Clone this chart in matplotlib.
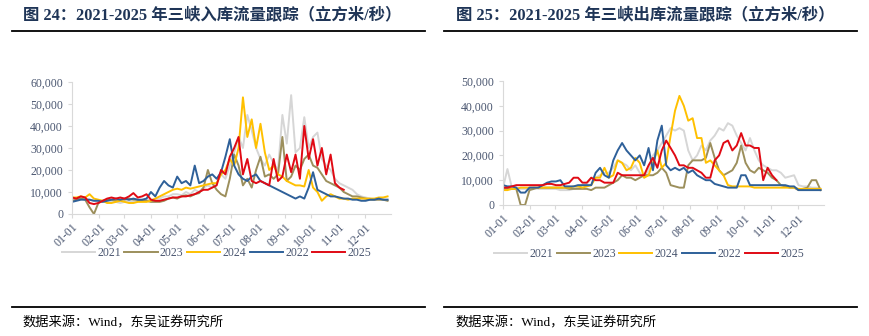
import matplotlib.pyplot as plt
from matplotlib.lines import Line2D
from matplotlib.ticker import FuncFormatter

# ---- data (thousand m3/s, sampled every 5 days from 01-01) ----
days = list(range(0, 365, 5))
days_2025 = list(range(0, 315, 5))

month_ticks = [0, 31, 59, 90, 120, 151, 181, 212, 243, 273, 304, 334]
month_labels = ["01-01", "02-01", "03-01", "04-01", "05-01", "06-01",
                "07-01", "08-01", "09-01", "10-01", "11-01", "12-01"]

years = ["2021", "2023", "2024", "2022", "2025"]
colors = ["#D6D6D6", "#9C8F5C", "#FFC000", "#2E6099", "#E00A14"]

in_2021 = [6.5, 7, 7.5, 7, 6.5, 6, 6, 6, 5.5, 5.5, 5.5, 5, 5.5, 6, 5.5, 6, 6, 6.5, 6.5, 7,
           7, 8, 8, 9, 9, 8.5, 10, 9, 11, 10, 12, 13, 12, 14, 18, 16, 22, 28, 35, 30,
           45, 38, 30, 25, 22, 27, 23, 20, 45, 32, 54, 28, 30, 44, 30, 35, 37, 25, 22, 20,
           16, 14, 13, 12, 11, 9, 8, 7.5, 7, 6.5, 6.5, 6.5, 6.5]
in_2023 = [6, 6.5, 7, 6.5, 3, 0, 5, 6, 6.5, 6.5, 6, 6.5, 6.5, 7, 6.5, 6.5, 6, 6, 5.5, 5.5,
           5.5, 6, 7, 7.5, 7, 8, 8.5, 8, 9, 9.5, 12, 20, 14, 11, 9, 8, 16, 27, 22, 13,
           16, 12, 20, 26, 17, 18, 16, 18, 35, 15, 17, 22, 20, 25, 27, 22, 21, 18, 15, 14,
           13, 12, 10, 9, 8, 8, 7.5, 7, 6.5, 6.5, 6.5, 6.5, 6]
in_2024 = [7.5, 7.5, 8, 7.5, 9, 7, 6.5, 6, 5, 5, 5.5, 6, 5.5, 5, 5, 5.5, 5.5, 5.5, 6, 7,
           8, 9, 10, 11, 11.5, 11, 12, 11.5, 12, 12.5, 13, 13.5, 14, 14, 18, 20, 25, 22, 30, 53,
           35, 43, 30, 41, 28, 20, 22, 18, 17, 15, 14, 13, 13, 12.5, 20, 12, 10, 6, 8, 9,
           8, 7, 7, 6.5, 7, 7, 7, 7, 7, 7, 7.5, 7.5, 8]
in_2022 = [5.5, 6, 6.5, 6.5, 6.5, 6, 6, 5.5, 6, 6.5, 7, 6.5, 7, 6.5, 7, 6.5, 6.5, 7, 10, 8,
           12, 15, 13, 12, 17, 14, 15, 13, 22, 14, 15, 17, 18, 16, 19, 26, 34, 22, 18, 16,
           15, 17, 18, 15, 14, 13, 12, 11, 10, 9, 8, 7, 8, 7, 12, 19, 11, 10, 9, 8,
           8, 7.5, 7, 7, 6.5, 6.5, 6, 6, 6.5, 6.5, 7, 6.5, 6.5]
in_2025 = [7.5, 7, 8, 7.5, 5, 4.5, 5, 6, 7, 7.5, 7, 7.5, 7, 8, 9.5, 7.5, 8, 9, 6.5, 6,
           6, 6.5, 7, 7.5, 7.5, 8, 8, 8.5, 9, 10, 11, 11, 12, 13, 20, 18, 26, 30, 35, 18,
           25, 15, 14, 15, 14, 13, 25, 15, 17, 27, 19, 27, 16, 40, 25, 34, 22, 30, 18, 27,
           14, 12, 11]

out_2021 = [7, 14.5, 7, 7, 6.5, 6.5, 6.5, 7, 6.5, 6.5, 6.5, 6.5, 6.5, 6, 6, 6, 6.5, 7, 8, 8.5,
            11, 11, 12, 13, 13, 15, 18, 17, 16, 14, 16, 13, 11, 14, 20, 22, 25, 28, 31, 30,
            31, 30, 22, 18, 20, 24, 22, 26, 28, 31, 30, 33, 32, 28, 25, 22, 27, 22, 18, 16,
            15, 14, 14, 13, 11, 11.5, 12, 8, 7.5, 7.5, 7, 7, 6.5]
out_2023 = [6.5, 6.5, 6.5, 6.5, 0, 0, 6, 6.5, 7, 7, 7, 7, 7, 7, 7, 6.5, 6.5, 6.5, 6.5, 6.5,
            6, 7, 7, 7, 8, 9, 10, 12, 11, 11, 10, 11, 12, 12, 12, 13, 15, 13, 8, 7.5,
            7, 7, 16, 18, 18, 18, 19, 25, 19, 14, 12, 13, 14, 17, 24, 17, 14, 13, 15, 14,
            13, 11, 10, 8, 7.5, 7, 7, 6, 6.5, 7, 10, 10, 6]
out_2024 = [6, 6, 6.5, 6.5, 7, 7, 7, 7, 7, 7, 7, 7, 7, 7, 7, 7, 7.5, 7.5, 7, 7.5,
            8, 11, 11, 15, 11, 12, 18, 17, 14, 15, 19, 17, 11, 12, 17, 22, 15, 17, 28, 38,
            44, 40, 34, 35, 27, 27, 17, 18, 16, 14, 12, 8, 7.5, 7.5, 7.5, 7.5, 7.5, 7, 7, 7,
            7, 7, 7, 7, 7, 7, 7, 6.5, 6.5, 6.5, 6.5, 6.5, 6.5]
out_2022 = [8, 7.5, 7.5, 7, 5, 5, 7, 7, 7, 8, 9, 9.5, 9.5, 10, 7.5, 7.5, 7.5, 8, 8, 8,
            8, 13, 15, 12, 11, 18, 22, 25, 22, 20, 18, 20, 16, 23, 14, 26, 32, 16, 14, 15,
            14, 15, 13, 14, 12, 11, 10, 10, 8.5, 8, 7.5, 7, 7, 7, 12, 12, 8, 8, 8, 8,
            8, 8, 8, 8, 8, 7.5, 7.5, 6, 6, 6, 6, 6, 6]
out_2025 = [7, 7, 7.5, 8, 8, 8, 8, 8, 8, 8, 8.5, 8.5, 8, 8, 8.5, 9, 11, 11, 9, 9,
            11, 10, 10, 9, 9, 9, 13, 12, 12, 12, 12, 12, 12, 16, 19, 15, 22, 26, 23, 20,
            16, 16, 15, 15, 14, 13, 11, 11, 18, 20, 25, 26, 22, 24, 29, 24, 24, 23, 23, 10,
            15, 12, 10]

inflow = [in_2021, in_2023, in_2024, in_2022, in_2025]
outflow = [out_2021, out_2023, out_2024, out_2022, out_2025]

plt.rcParams['font.family'] = ['Liberation Serif', 'Noto Sans CJK SC']
tick_color = "#4A5670"
axis_color = "#D9D9D9"

fig = plt.figure(figsize=(8.7, 3.36), dpi=100)


def draw_panel(ax, series, ymax):
    for name, vals, c in zip(years, series, colors):
        x = days_2025 if name == "2025" else days
        y = [v * 1000 for v in vals]
        ax.plot(x, y, color=c, lw=1.4, label=name)
    ax.set_xlim(0, 364)
    ax.set_ylim(0, ymax)
    ax.set_yticks(range(0, ymax + 1, 10000))
    ax.yaxis.set_major_formatter(FuncFormatter(lambda v, p: f"{int(v):,}"))
    ax.set_xticks(month_ticks)
    ax.set_xticklabels(month_labels, rotation=45, ha='right', va='top',
                       rotation_mode='anchor')
    for s in ['top', 'right']:
        ax.spines[s].set_visible(False)
    for s in ['left', 'bottom']:
        ax.spines[s].set_color(axis_color)
    ax.tick_params(axis='both', colors=axis_color, labelcolor=tick_color,
                   labelsize=8.5, length=3, width=0.8)
    ax.tick_params(axis='x', pad=2)


ax1 = fig.add_axes([0.0828, 0.3631, 0.3667, 0.393])
draw_panel(ax1, inflow, 60000)
ax1.legend(loc='center', bbox_to_anchor=(0.249, 0.247), bbox_transform=fig.transFigure,
           ncol=5, frameon=False, fontsize=8.5, handlelength=2.8, columnspacing=0.3,
           handletextpad=0.2, labelcolor=tick_color)

ax2 = fig.add_axes([0.5782, 0.3899, 0.369, 0.369])
draw_panel(ax2, outflow, 50000)
ax2.legend(loc='center', bbox_to_anchor=(0.746, 0.244), bbox_transform=fig.transFigure,
           ncol=5, frameon=False, fontsize=8.5, handlelength=2.8, columnspacing=0.3,
           handletextpad=0.2, labelcolor=tick_color)

# titles, rules and source notes
title_color = "#1F3557"
fig.text(23 / 870, 1 - 16 / 336, "图 24：2021-2025 年三峡入库流量跟踪（立方米/秒）",
         fontsize=11.8, fontweight='bold', color=title_color, va='center')
fig.text(456 / 870, 1 - 16 / 336, "图 25：2021-2025 年三峡出库流量跟踪（立方米/秒）",
         fontsize=11.8, fontweight='bold', color=title_color, va='center')

for x0, x1 in [(12, 425), (444, 857)]:
    fig.add_artist(Line2D([x0 / 870, x1 / 870], [1 - 31 / 336] * 2, color='black', lw=1.3))
    fig.add_artist(Line2D([x0 / 870, x1 / 870], [1 - 307 / 336] * 2, color='black', lw=1.3))

fig.text(22 / 870, 1 - 323 / 336, "数据来源：Wind，东吴证券研究所", fontsize=9.5, va='center')
fig.text(455 / 870, 1 - 323 / 336, "数据来源：Wind，东吴证券研究所", fontsize=9.5, va='center')

fig.savefig("out.png", dpi=100)
